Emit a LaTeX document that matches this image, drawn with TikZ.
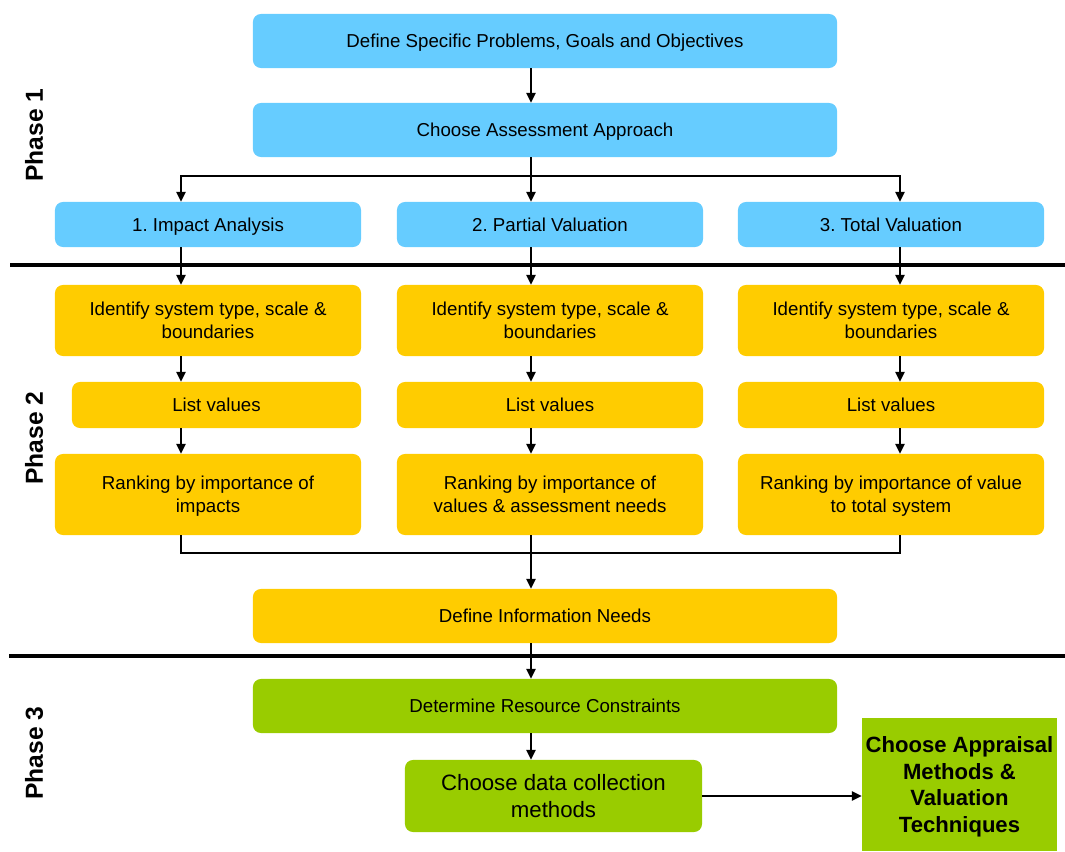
\documentclass[tikz,border=0pt]{standalone}
\usepackage{fontspec}
\setmainfont{Liberation Sans}
\usetikzlibrary{arrows.meta, positioning, calc}
\definecolor{skyblue}{RGB}{102, 204, 255}
\definecolor{amber}{RGB}{255, 204, 0}
\definecolor{leafgreen}{RGB}{153, 204, 0}
\frenchspacing

\begin{document}
\begin{tikzpicture}[
    x=0.025cm, y=-0.025cm,
    box/.style={rectangle, rounded corners=0.2cm, inner sep=0pt, text depth=0pt, align=center, font=\fontsize{13.3}{16.4}\selectfont},
    wide/.style={box, minimum width=14.6cm, minimum height=1.35cm},
    col/.style={box, minimum width=7.65cm},
    arrow/.style={-{Triangle[length=7pt, width=6.5pt]}, line width=1.4pt},
    link/.style={line width=1.4pt},
    divider/.style={line width=2.2pt},
    phase/.style={rotate=90, font=\fontsize{17.5}{20}\selectfont\bfseries}
]
    \useasboundingbox (0,0) rectangle (1065,852);

    % Column axes
    \coordinate (c1) at (181,0);
    \coordinate (c2) at (531,0);
    \coordinate (c3) at (900,0);

    % Phase 1
    \node[phase] (p1) at (34,135) {Phase 1};
    \node[wide, fill=skyblue] (goals) at (545,41) {Define Specific Problems, Goals and Objectives};
    \node[wide, fill=skyblue] (approach) at (545,130) {Choose Assessment Approach};
    \node[col, minimum height=1.125cm, fill=skyblue] (impact) at (208,224.5) {1. Impact Analysis};
    \node[col, minimum height=1.125cm, fill=skyblue] (partial) at (550,224.5) {2. Partial Valuation};
    \node[col, minimum height=1.125cm, fill=skyblue] (total) at (891,224.5) {3. Total Valuation};
    \coordinate (split) at (531,176);
    \draw[arrow] (goals.south -| c2) -- (approach.north -| c2);
    \draw[link] (approach.south -| c2) -- (split);
    \draw[arrow] (split) -| (impact.north -| c1);
    \draw[arrow] (split) -- (partial.north -| c2);
    \draw[arrow] (split) -| (total.north -| c3);

    \draw[divider] (10,265) -- (1065,265);

    % Phase 2
    \node[phase] (p2) at (34,438) {Phase 2};
    \node[col, minimum height=1.775cm, fill=amber] (ident1) at (208,320.5) {Identify system type, scale \&\\boundaries};
    \node[col, minimum height=1.775cm, fill=amber] (ident2) at (550,320.5) {Identify system type, scale \&\\boundaries};
    \node[col, minimum height=1.775cm, fill=amber] (ident3) at (891,320.5) {Identify system type, scale \&\\boundaries};
    \node[box, minimum width=7.225cm, minimum height=1.15cm, fill=amber] (list1) at (216.5,405) {List values};
    \node[col, minimum height=1.15cm, fill=amber] (list2) at (550,405) {List values};
    \node[col, minimum height=1.15cm, fill=amber] (list3) at (891,405) {List values};
    \node[col, minimum height=2.025cm, fill=amber] (rank1) at (208,494.5) {Ranking by importance of\\impacts};
    \node[col, minimum height=2.025cm, fill=amber] (rank2) at (550,494.5) {Ranking by importance of\\values \& assessment needs};
    \node[col, minimum height=2.025cm, fill=amber] (rank3) at (891,494.5) {Ranking by importance of value\\to total system};
    \node[wide, fill=amber] (needs) at (545,616) {Define Information Needs};
    \draw[arrow] (impact.south -| c1) -- (ident1.north -| c1);
    \draw[arrow] (partial.south -| c2) -- (ident2.north -| c2);
    \draw[arrow] (total.south -| c3) -- (ident3.north -| c3);
    \draw[arrow] (ident1.south -| c1) -- (list1.north -| c1);
    \draw[arrow] (ident2.south -| c2) -- (list2.north -| c2);
    \draw[arrow] (ident3.south -| c3) -- (list3.north -| c3);
    \draw[arrow] (list1.south -| c1) -- (rank1.north -| c1);
    \draw[arrow] (list2.south -| c2) -- (rank2.north -| c2);
    \draw[arrow] (list3.south -| c3) -- (rank3.north -| c3);
    \coordinate (merge) at (531,553);
    \draw[link] (rank1.south -| c1) |- (merge);
    \draw[link] (rank3.south -| c3) |- (merge);
    \draw[arrow] (rank2.south -| c2) -- (needs.north -| c2);

    \draw[divider] (9,656) -- (1065,656);

    % Phase 3
    \node[phase] (p3) at (34,753) {Phase 3};
    \node[wide, fill=leafgreen] (resource) at (545,706) {Determine Resource Constraints};
    \node[box, minimum width=7.425cm, minimum height=1.8cm, fill=leafgreen, font=\fontsize{15.8}{19}\selectfont] (datacoll) at (553.5,796) {Choose data collection\\methods};
    \node[rectangle, inner sep=0pt, text depth=0pt, minimum width=4.875cm, minimum height=3.325cm, fill=leafgreen, align=center, font=\fontsize{15.7}{18.9}\selectfont\bfseries] (appraisal) at (959.5,784.5) {Choose Appraisal\\Methods \&\\Valuation\\Techniques};
    \draw[arrow] (needs.south -| c2) -- (resource.north -| c2);
    \draw[arrow] (resource.south -| c2) -- (datacoll.north -| c2);
    \draw[arrow] (datacoll.east) -- (datacoll.east -| appraisal.west);
\end{tikzpicture}
\end{document}
